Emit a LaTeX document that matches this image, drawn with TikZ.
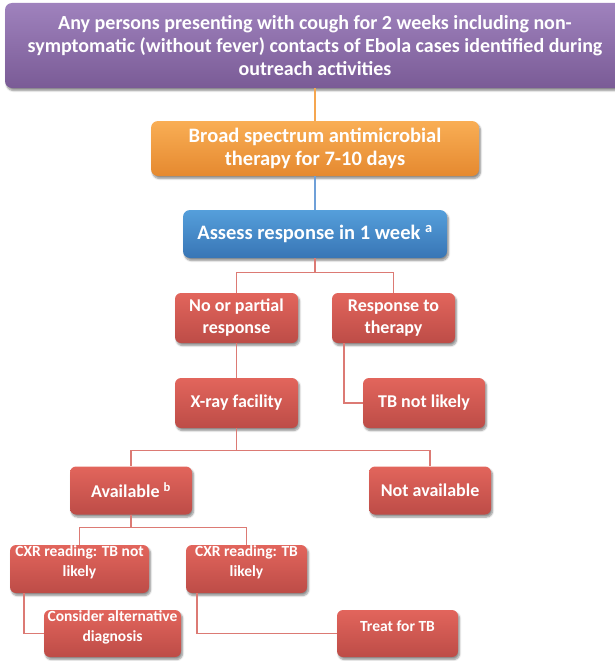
\documentclass[tikz,border=0pt]{standalone}
\usepackage{fontspec}
\setmainfont{Carlito}
\usetikzlibrary{shadows.blur}

\definecolor{purT}{HTML}{9F82BD}
\definecolor{purB}{HTML}{7A5B96}
\definecolor{orgT}{HTML}{F9AE55}
\definecolor{orgB}{HTML}{E5892F}
\definecolor{bluT}{HTML}{559FDB}
\definecolor{bluB}{HTML}{3875B5}
\definecolor{redT}{HTML}{E2655C}
\definecolor{redB}{HTML}{BD4C47}
\definecolor{oline}{HTML}{F5A650}
\definecolor{bline}{HTML}{6FA0D8}
\definecolor{rline}{HTML}{DC7A74}

% text set higher inside its box, keeping the box centred on the natural size
\newcommand\liftup[2]{\raisebox{#1}[\height][\depth]{\begin{tabular}{@{}c@{}}#2\end{tabular}}}

\tikzset{
  box/.style={rounded corners=7pt, draw=none, text=white, align=center,
    inner sep=0pt,
    blur shadow={shadow xshift=1.5pt, shadow yshift=-2.5pt, shadow blur steps=6, shadow opacity=45}},
  purplebox/.style={box, top color=purT, bottom color=purB,
    font=\fontsize{20}{23}\selectfont\bfseries},
  orangebox/.style={box, top color=orgT, bottom color=orgB,
    font=\fontsize{20.5}{23}\selectfont\bfseries},
  bluebox/.style={box, top color=bluT, bottom color=bluB,
    font=\fontsize{20.5}{23}\selectfont\bfseries},
  redbox/.style={box, rounded corners=6pt, top color=redT, bottom color=redB,
    font=\fontsize{18}{22}\selectfont\bfseries},
  smallred/.style={redbox, font=\fontsize{15.5}{20}\selectfont\bfseries},
  link/.style={line width=1.4pt},
}

\begin{document}
\begin{tikzpicture}[x=1pt, y=-1pt]
\useasboundingbox (0,0) rectangle (615,661);

% boxes
\node[purplebox, minimum width=620pt, minimum height=85pt] (top) at (315,45.5)
  {Any persons presenting with cough for 2 weeks including non-\\
   symptomatic (without fever) contacts of Ebola cases identified during\\
   outreach activities};
\node[orangebox, minimum width=328pt, minimum height=55pt] (orange) at (315,148.5)
  {Broad spectrum antimicrobial\\therapy for 7-10 days};
\node[bluebox, minimum width=264pt, minimum height=48pt] (assess) at (315,234)
  {Assess response in 1 week \textsuperscript{a}};

\node[redbox, minimum width=123pt, minimum height=50pt] (nopart) at (236.5,318)
  {No or partial\\response};
\node[redbox, minimum width=123pt, minimum height=50pt] (resp) at (393.5,318)
  {Response to\\therapy};
\node[redbox, minimum width=123pt, minimum height=50pt] (xray) at (236.5,403)
  {X-ray facility};
\node[redbox, minimum width=122pt, minimum height=50pt] (tbnot) at (424,403)
  {TB not likely};

\node[redbox, minimum width=122pt, minimum height=48pt] (avail) at (131,490.5)
  {Available \textsuperscript{b}};
\node[redbox, minimum width=122pt, minimum height=48pt] (notav) at (430,490.5)
  {Not available};

\node[smallred, minimum width=139pt, minimum height=48pt] (cxrno) at (79.5,569)
  {\liftup{7pt}{CXR reading: TB not\\likely}};
\node[smallred, minimum width=121pt, minimum height=48pt] (cxryes) at (246.5,569)
  {\liftup{7pt}{CXR reading: TB\\likely}};
\node[smallred, minimum width=137pt, minimum height=47pt] (alt) at (112.5,633.5)
  {\liftup{6pt}{Consider alternative\\diagnosis}};
\node[smallred, minimum width=121pt, minimum height=47pt] (treat) at (397.5,633.5)
  {\liftup{6pt}{Treat for TB}};

% connectors, drawn from border to border of the boxes
\draw[link, oline] (top) -- (orange);
\draw[link, bline] (orange) -- (assess);
\draw[link, rline] (assess.south) -- ++(0,14) -| (nopart.north);
\draw[link, rline] (assess.south) -- ++(0,14) -| (resp.north);
\draw[link, rline] ([xshift=12pt]resp.south west) |- (tbnot.west);
\draw[link, rline] (nopart) -- (xray);
\draw[link, rline] (xray.south) -- ++(0,22) -| (avail.north);
\draw[link, rline] (xray.south) -- ++(0,22) -| (notav.north);
\draw[link, rline] (avail.south) -- ++(0,13) -| (cxrno.north);
\draw[link, rline] (avail.south) -- ++(0,13) -| (cxryes.north);
\draw[link, rline] ([xshift=14pt]cxrno.south west) |- (alt.west);
\draw[link, rline] ([xshift=11pt]cxryes.south west) |- (treat.west);
\end{tikzpicture}
\end{document}
